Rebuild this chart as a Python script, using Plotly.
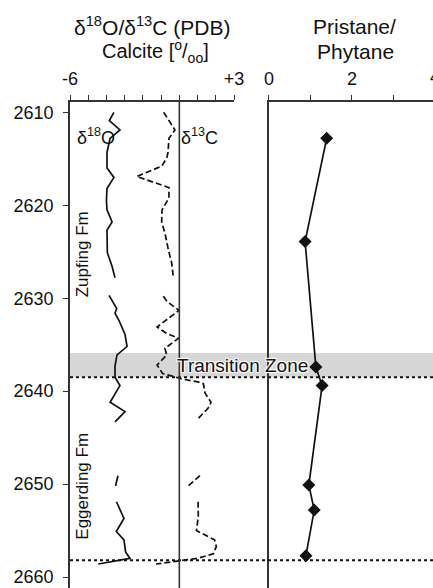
import plotly.graph_objects as go

FONT = "Liberation Sans, Arial, sans-serif"

# delta18O calcite (solid) — None marks gaps in the record
d18o_depth = [2610.0, 2610.9, 2611.9, 2612.8, 2614.3, 2616.0, 2617.0, 2618.2, 2619.5, 2620.5,
              2621.8, 2622.7, 2625.1, 2626.6, 2627.8, None,
              2629.7, 2631.1, 2631.6, 2632.4, 2633.9, 2635.2, 2636.1, 2637.3, 2638.5, 2639.4,
              2641.2, 2642.2, 2643.3, None,
              2649.1, 2650.2, None,
              2651.9, 2653.7, 2655.1, 2656.0, 2657.3, 2658.0, 2658.6]
d18o_val = [-3.59, -3.84, -3.26, -3.80, -3.97, -3.97, -3.59, -3.97, -4.00, -3.97,
            -3.69, -3.97, -3.95, -3.69, -3.53, None,
            -3.86, -3.44, -3.53, -3.31, -2.98, -2.87, -3.42, -3.53, -3.53, -3.26,
            -3.80, -2.98, -3.53, None,
            -3.37, -3.50, None,
            -3.45, -3.04, -3.46, -3.04, -2.95, -2.71, -4.45]

# delta13C calcite (dashed)
d13c_depth = [2610.0, 2611.7, 2611.9, 2612.8, 2614.3, 2614.9, 2615.8, 2616.9, 2618.1, 2619.2,
              2620.5, 2621.8, 2623.0, 2624.8, 2626.2, 2627.7, None,
              2629.8, 2630.4, 2631.3, 2633.1, 2633.8, 2634.3, 2635.4, 2636.1, 2637.2, 2638.1,
              2638.5, 2638.7, 2639.0, 2639.2, 2640.2, 2641.2, 2641.7, 2642.0, 2643.1, None,
              2649.1, 2650.2, None,
              2651.9, 2653.5, 2655.0, 2656.0, 2656.7, 2657.5, 2658.0, 2658.6]
d13c_val = [-0.86, -0.33, -0.24, -0.57, -0.62, -0.69, -0.97, -2.34, -0.57, -0.57,
            -0.95, -0.97, -0.79, -0.60, -0.42, -0.33, None,
            -0.88, -0.65, -0.02, -1.22, -0.69, -0.04, -0.79, -0.69, -1.22, -0.92,
            -0.18, 0.15, 1.03, 1.32, 1.41, 1.74, 1.63, 1.50, 0.95, None,
            1.13, 0.48, None,
            1.03, 1.04, 0.94, 1.93, 2.03, 1.87, 0.97, -1.28]

# Pristane/Phytane ratio
pr_depth = [2612.8, 2623.9, 2637.4, 2639.4, 2650.1, 2652.8, 2657.7]
pr_val = [1.39, 0.87, 1.13, 1.28, 0.96, 1.09, 0.89]

depth_ticks = [2610, 2620, 2630, 2640, 2650, 2660]
iso_ticks = [-6, -5, -4, -3, -2, -1, 0, 1, 2, 3]
iso_ticktext = ["-6", "", "", "", "", "", "", "", "", "+3"]
pr_ticks = [0, 1, 2, 3]
pr_ticktext = ["0", "", "2", ""]

transition_top, transition_base = 2635.9, 2638.5
lower_boundary = 2658.2

fig = go.Figure()
fig.add_trace(go.Scatter(x=d18o_val, y=d18o_depth, mode="lines", connectgaps=False,
                         line=dict(color="#111", width=1.7), xaxis="x", yaxis="y"))
fig.add_trace(go.Scatter(x=d13c_val, y=d13c_depth, mode="lines", connectgaps=False,
                         line=dict(color="#111", width=1.7, dash="6px,3px"), xaxis="x", yaxis="y"))
fig.add_trace(go.Scatter(x=pr_val, y=pr_depth, mode="lines+markers",
                         line=dict(color="#111", width=1.7),
                         marker=dict(symbol="diamond", size=10, color="#111"),
                         xaxis="x2", yaxis="y2"))

yr = [2661.18, 2608.89]
axcol = "#333"
fig.update_layout(
    width=433, height=588,
    margin=dict(l=70, r=0, t=102, b=0, autoexpand=False),
    paper_bgcolor="white", plot_bgcolor="white",
    showlegend=False,
    font=dict(family=FONT, size=18, color="#111"),
    xaxis=dict(domain=[0, 0.4518], range=[-6, 3], side="top", tickvals=iso_ticks,
               ticktext=iso_ticktext, ticks="outside", ticklen=5, tickcolor=axcol,
               showline=True, linecolor=axcol, linewidth=1.6, mirror=True,
               showgrid=False, zeroline=False, ticklabelstandoff=3,
               automargin=False, tickfont=dict(size=18)),
    yaxis=dict(range=yr, tickvals=depth_ticks, ticks="outside", ticklen=5,
               tickcolor=axcol, showline=True, linecolor=axcol, linewidth=1.6,
               showgrid=False, zeroline=False, ticklabelstandoff=6,
               automargin=False, tickfont=dict(size=18)),
    xaxis2=dict(domain=[0.5482, 1], range=[0, 3.952], side="top", anchor="y2",
                tickvals=pr_ticks, ticktext=pr_ticktext, ticks="outside", ticklen=5,
                tickcolor=axcol, showline=True, linecolor=axcol, linewidth=1.6,
                showgrid=False, zeroline=False, ticklabelstandoff=3,
                automargin=False, tickfont=dict(size=18)),
    yaxis2=dict(range=yr, anchor="x2", matches="y", showticklabels=False, ticks="",
                showline=True, linecolor=axcol, linewidth=1.6, automargin=False,
                showgrid=False, zeroline=False),
)

# transition zone band and boundaries
fig.add_shape(type="rect", xref="paper", yref="y", x0=0, x1=1,
              y0=transition_top, y1=transition_base, fillcolor="#d6d6d6",
              line=dict(width=0), layer="below")
for yb in [transition_base, lower_boundary]:
    fig.add_shape(type="line", xref="paper", yref="y", x0=0, x1=1, y0=yb, y1=yb,
                  line=dict(color="#111", width=2, dash="dot"), layer="above")
# zero line of isotope panel
fig.add_shape(type="line", xref="x", yref="paper", x0=0, x1=0, y0=0, y1=1,
              line=dict(color=axcol, width=1.6))

PW, PH = 363, 486
def px(xp):
    return (xp - 70) / PW
def py(yp):
    return (588 - yp) / PH

ann = [
    dict(text="δ<sup>18</sup>O/δ<sup>13</sup>C (PDB)", x=152, y=26, s=21),
    dict(text="Calcite [<sup>o</sup>/<sub>oo</sub>]", x=155, y=52, s=20),
    dict(text="Pristane/", x=354, y=26, s=21),
    dict(text="Phytane", x=355, y=52, s=21),
]
for a in ann:
    fig.add_annotation(text=a["text"], xref="paper", yref="paper",
                       x=px(a["x"]), y=py(a["y"]),
                       showarrow=False, font=dict(size=a["s"]),
                       xanchor="center", yanchor="middle")

# tick label "4" of the Pristane/Phytane axis, cut by the right edge
fig.add_annotation(text="4", xref="paper", x=px(435), yref="paper", y=py(77),
                   xanchor="center", yanchor="middle", showarrow=False,
                   font=dict(size=18))

fig.add_annotation(text="δ<sup>18</sup>O", xref="x", x=-5.75, yref="y", y=2612.6,
                   xanchor="left", showarrow=False, font=dict(size=18))
fig.add_annotation(text="δ<sup>13</sup>C", xref="x", x=0.0, yref="y", y=2612.6,
                   xanchor="left", showarrow=False, font=dict(size=18))
fig.add_annotation(text="Zupfing Fm", xref="x", x=-5.3, yref="y", y=2625.3,
                   textangle=-90, showarrow=False, font=dict(size=17))
fig.add_annotation(text="Eggerding Fm", xref="x", x=-5.3, yref="y", y=2650.2,
                   textangle=-90, showarrow=False, font=dict(size=17))
fig.add_annotation(text="Transition Zone", xref="paper", x=px(242), yref="y",
                   y=2637.2, showarrow=False,
                   font=dict(size=19, shadow="1px 1px 1px white, -1px -1px 1px white, 1px -1px 1px white, -1px 1px 1px white"))

fig.write_html("out.html")
